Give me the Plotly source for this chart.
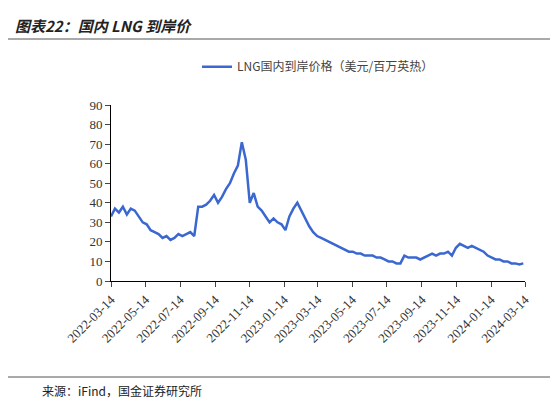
import plotly.graph_objects as go
import pandas as pd

dates = pd.date_range("2022-03-14", periods=105, freq="7D")
prices = [
 33,37,35,38,34,37,36,33,30,29,26,25,24,22,23,21,22,24,23,24,25,23,38,38,39,41,44,40,43,47,50,55,59,71,62,40,45,38,36,33,30,32,30,29,26,33,37,40,36,32,28,25,23,22,21,20,19,18,17,16,15,15,14,14,13,13,13,12,12,11,10,10,9,9,13,12,12,12,11,12,13,14,13,14,14,15,13,17,19,18,17,18,17,16,15,13,12,11,11,10,10,9,9,8.5,9
]
ticktext = ["2022-03-14","2022-05-14","2022-07-14","2022-09-14","2022-11-14","2023-01-14","2023-03-14",
            "2023-05-14","2023-07-14","2023-09-14","2023-11-14","2024-01-14","2024-03-14"]
ticks = pd.to_datetime(ticktext)
tf = dict(family="Times New Roman, Liberation Serif, serif", size=13, color="#333")

fig = go.Figure()
fig.add_trace(go.Scatter(x=dates, y=prices, mode="lines", name="LNG国内到岸价格（美元/百万英热）",
                         line=dict(color="#3A68D0", width=2.5)))
fig.update_layout(
    width=558, height=403, paper_bgcolor="white", plot_bgcolor="white",
    margin=dict(l=103, r=41, t=97, b=130, autoexpand=False),
    font=dict(family="Noto Sans CJK SC", size=12, color="#333"),
    showlegend=True,
    legend=dict(x=0.5, xanchor="center", y=1.3, yanchor="top", orientation="h", font=dict(size=12, color="#444")),
    xaxis=dict(range=[pd.Timestamp("2022-03-14"), pd.Timestamp("2024-03-14")], tickvals=ticks, ticktext=ticktext,
               tickangle=-45, showline=True, linecolor="black", ticks="outside", ticklen=5, showgrid=False,
               tickfont=tf, automargin=False),
    yaxis=dict(range=[0, 90], dtick=10, showline=True, linecolor="black", ticks="outside", ticklen=5,
               showgrid=False, tickfont=tf, automargin=False),
    annotations=[
        dict(text="<b><i>图表22：国内 LNG 到岸价</i></b>", x=0.0, y=1.0, xref="paper", yref="paper",
             xanchor="left", yanchor="top", xshift=-103+5, yshift=97-5, showarrow=False,
             font=dict(size=15, color="#222")),
        dict(text="来源：iFind，国金证券研究所", x=0, y=0, xref="paper", yref="paper", xanchor="left",
             yanchor="bottom", xshift=-103+32, yshift=-130+10, showarrow=False, font=dict(size=12, color="#222")),
    ],
    shapes=[
        dict(type="line", xref="paper", yref="paper", x0=-103/414, x1=1+41/414, y0=1+66/176, y1=1+66/176,
             line=dict(color="#555", width=1)),
        dict(type="line", xref="paper", yref="paper", x0=-103/414, x1=1+41/414, y0=-96/176, y1=-96/176,
             line=dict(color="#555", width=1)),
    ],
)
fig.write_html("out.html")
